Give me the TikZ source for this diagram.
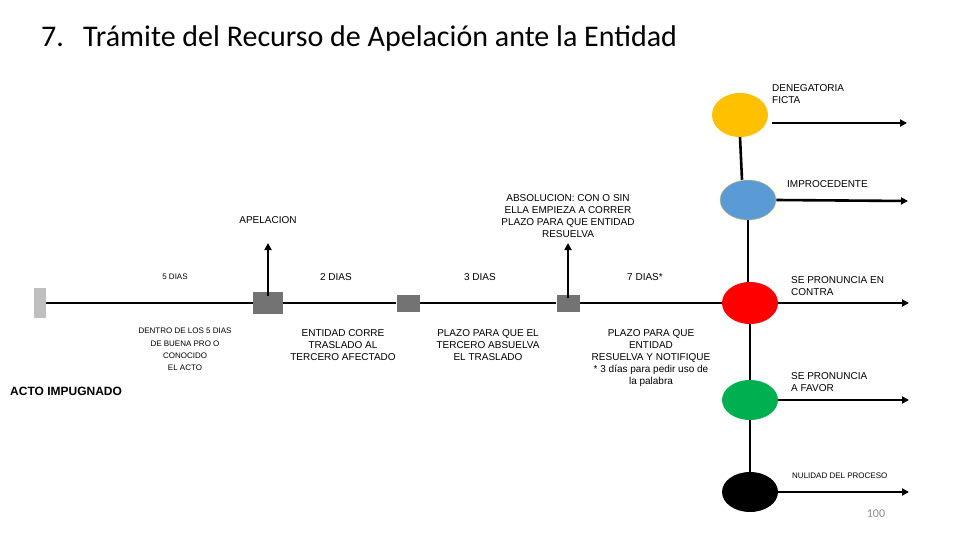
\documentclass[tikz,border=0pt]{standalone}
\usepackage{fontspec}
\setmainfont{Liberation Sans}
\newfontfamily\titlefont{Carlito}
\usetikzlibrary{shapes.geometric,arrows.meta}
\begin{document}
\begin{tikzpicture}[x=1pt,y=-1pt,
  lbl/.style={inner sep=0pt,align=center,font=\fontsize{10}{12}\selectfont},
  lbll/.style={inner sep=0pt,align=left,anchor=west,font=\fontsize{10}{12}\selectfont},
  small/.style={inner sep=0pt,align=center,font=\fontsize{8}{12.3}\selectfont},
  ttl/.style={anchor=base west,inner sep=0pt,font=\titlefont\fontsize{30}{32}\selectfont},
  sq/.style={fill=black!55,minimum width=30pt,minimum height=22pt,inner sep=0pt},
  sqs/.style={fill=black!55,minimum width=23pt,minimum height=17pt,inner sep=0pt},
  circ/.style={ellipse,minimum width=56pt,minimum height=42pt,inner sep=0pt},
  line/.style={line width=2.6pt},
  arr/.style={line width=2.6pt,-{Triangle[length=7pt,width=7pt]}}]
\useasboundingbox (0,0) rectangle (960,540);
% title
\node[ttl] (num) at (41,47) {7.};
\node[ttl] (title) at (83,47) {Trámite del Recurso de Apelación ante la Entidad};
% timeline boxes
\node[fill=black!25,minimum width=12pt,minimum height=30pt,inner sep=0pt] (start) at (40,303) {};
\node[sq] (s1) at (268,303) {};
\node[sqs] (s2) at (408,303) {};
\node[sqs] (s3) at (568,303) {};
% circles
\node[circ,fill={rgb,255:red,255;green,192;blue,0},minimum height=44pt] (yel) at (740,115) {};
\node[circ,fill={rgb,255:red,91;green,155;blue,213},draw={rgb,255:red,200;green,190;blue,120},line width=0.5pt,minimum height=40pt] (blu) at (748,200) {};
\node[circ,fill=red] (red) at (750,303) {};
\node[circ,fill={rgb,255:red,0;green,176;blue,80},minimum height=40pt] (grn) at (750,400) {};
\node[circ,fill=black,minimum height=40pt] (blk) at (750,492) {};
% timeline
\draw[line] (start.east) -- (s1.west);
\draw[line] (s1.east) -- (s2.west);
\draw[line] (s2.east) -- (s3.west);
\draw[line] (s3.east) -- (red.west);
% verticals
\draw[line] (yel.south) -- ([xshift=2pt]yel.south |- blu.north);
\draw[line] (blu.south) -- (blu.south |- red.north);
\draw[line] (red.south) -- (grn.north);
\draw[line] (grn.south) -- (blk.north);
% up arrows
\coordinate (u1) at (268,243);
\coordinate (u3) at (568,243);
\draw[arr] ([yshift=-4pt]s1.north) -- (u1);
\draw[arr] ([yshift=-4pt]s3.north) -- (u3);
% right arrows
\coordinate (e1) at (907,123);
\coordinate (e2) at (908,201);
\coordinate (e3) at (909,303);
\coordinate (e4) at (909,400);
\coordinate (e5) at (909,492);
\draw[arr] (yel.east |- e1) ++(4,0) -- (e1);
\draw[arr] (blu.east) -- (e2);
\draw[arr] (red.east) -- (e3);
\draw[arr] (grn.east) -- (e4);
\draw[arr] (blk.east) -- (e5);
% labels above
\node[lbl] (apel) at (268,220) {APELACION};
\node[lbl] (abs) at (568,216) {ABSOLUCION: CON O SIN\\ELLA EMPIEZA A CORRER\\PLAZO PARA QUE ENTIDAD\\RESUELVA};
\node[small] (d5) at (175,277) {5 DIAS};
\node[lbl] (d2) at (336,277) {2 DIAS};
\node[lbl] (d3) at (480,277) {3 DIAS};
\node[lbl] (d7) at (645,277) {7 DIAS*};
% labels below
\node[small,anchor=north] (b1) at (185,328) {DENTRO DE LOS 5 DIAS\\DE BUENA PRO O\\CONOCIDO\\EL ACTO};
\node[lbl,anchor=north] (b2) at (343,329) {ENTIDAD CORRE\\TRASLADO AL\\TERCERO AFECTADO};
\node[lbl,anchor=north] (b3) at (488,329) {PLAZO PARA QUE EL\\TERCERO ABSUELVA\\EL TRASLADO};
\node[lbl,anchor=north] (b4) at (651,329) {PLAZO PARA QUE\\ENTIDAD\\RESUELVA Y NOTIFIQUE\\* 3 días para pedir uso de\\la palabra};
\node[inner sep=0pt,anchor=west,font=\bfseries\fontsize{12}{14}\selectfont] (acto) at (10,391) {ACTO IMPUGNADO};
% right labels
\node[lbll] (l1) at (772,94) {DENEGATORIA\\FICTA};
\node[lbll] (l2) at (787,184) {IMPROCEDENTE};
\node[lbll] (l3) at (791,286) {SE PRONUNCIA EN\\CONTRA};
\node[lbll] (l4) at (791,382) {SE PRONUNCIA\\A FAVOR};
\node[inner sep=0pt,anchor=west,font=\fontsize{8}{10}\selectfont] (l5) at (792,476) {NULIDAD DEL PROCESO};
\node[inner sep=0pt,font=\titlefont\fontsize{12}{14}\selectfont,text=black!45] (pg) at (876,514) {100};
\end{tikzpicture}
\end{document}
